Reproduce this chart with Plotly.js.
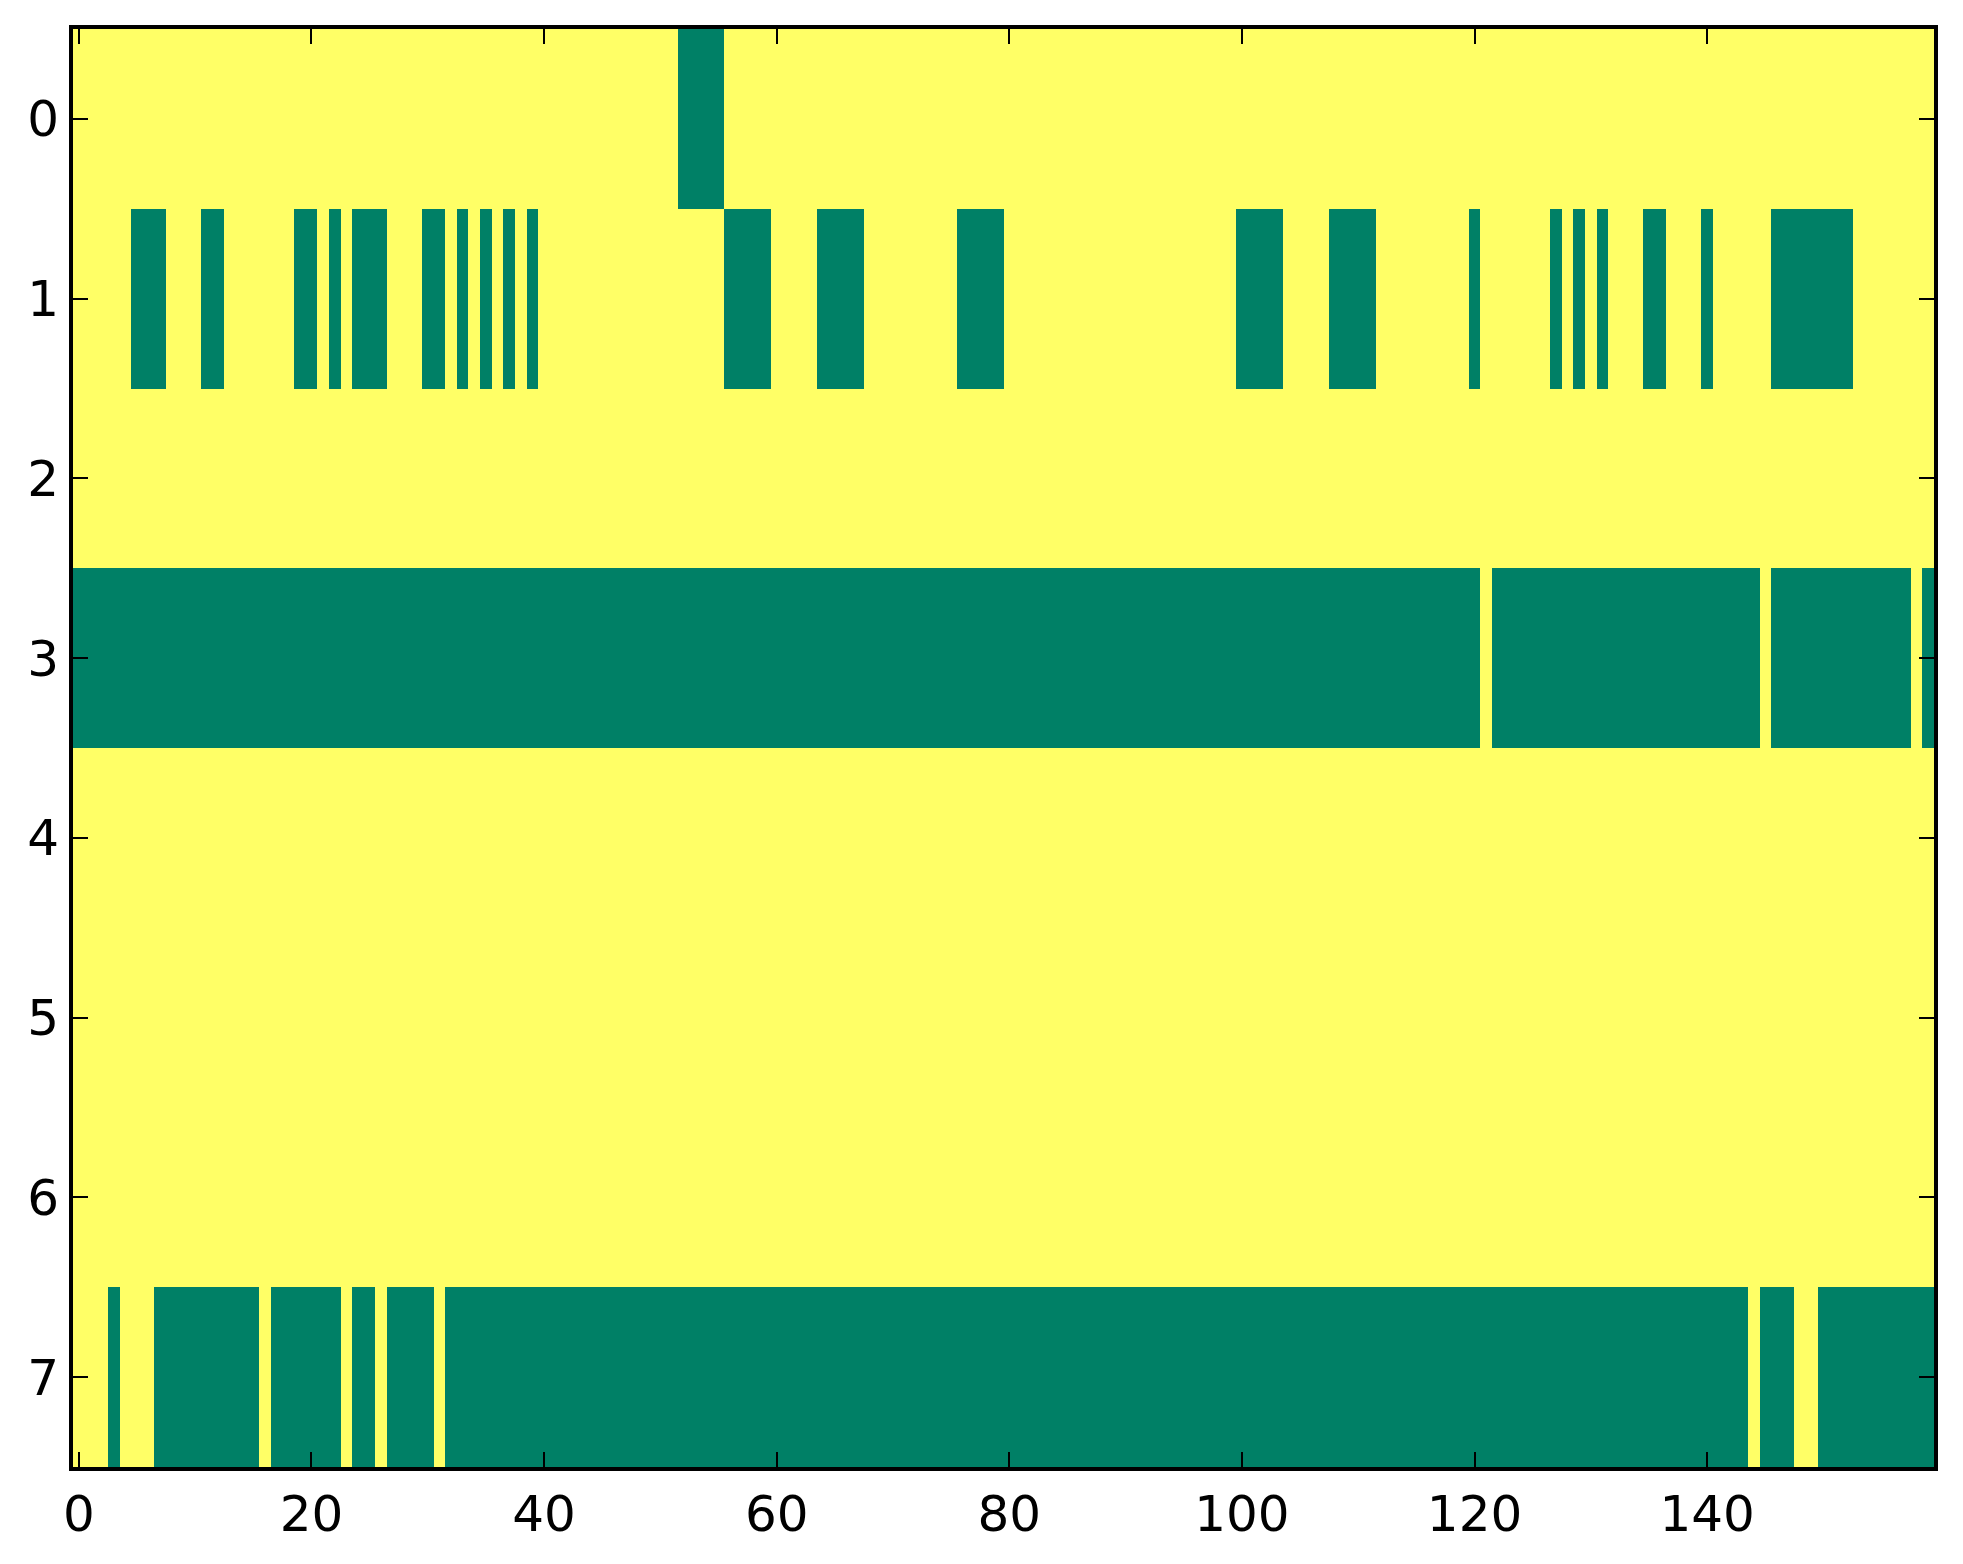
<!DOCTYPE html>
<html>
<head>
<meta charset="utf-8">
<script src="https://cdn.plot.ly/plotly-3.0.1.min.js"></script>
<style>
  html, body { margin: 0; padding: 0; background: #ffffff; }
  #chart { width: 1963px; height: 1564px; }
</style>
</head>
<body>
<div id="chart"></div>
<script>
// ---- data: 8 rows x 160 columns, binary values (0 = green, 1 = yellow) ----
const nCols = 160;
const rowIndex = [0, 1, 2, 3, 4, 5, 6, 7];
const xTickVals = [0, 20, 40, 60, 80, 100, 120, 140];
const yTickVals = [0, 1, 2, 3, 4, 5, 6, 7];

// inclusive column ranges whose value is 0 (drawn green)
const zeroRunsRow0 = [[52, 55]];
const zeroRunsRow1 = [[5, 7], [11, 12], [19, 20], [22, 22], [24, 26], [30, 31], [33, 33], [35, 35],
                      [37, 37], [39, 39], [56, 59], [64, 67], [76, 79], [100, 103], [108, 111],
                      [120, 120], [127, 127], [129, 129], [131, 131], [135, 136], [140, 140], [146, 152]];
const zeroRunsRow2 = [];
const zeroRunsRow3 = [[0, 120], [122, 144], [146, 157], [159, 159]];
const zeroRunsRow4 = [];
const zeroRunsRow5 = [];
const zeroRunsRow6 = [];
const zeroRunsRow7 = [[3, 3], [7, 15], [17, 22], [24, 25], [27, 30], [32, 143], [145, 147], [150, 159]];

const allRuns = [zeroRunsRow0, zeroRunsRow1, zeroRunsRow2, zeroRunsRow3,
                 zeroRunsRow4, zeroRunsRow5, zeroRunsRow6, zeroRunsRow7];

const xCols = [];
for (let c = 0; c < nCols; c++) xCols.push(c);

const z = allRuns.map(runs => {
  const row = new Array(nCols).fill(1);
  runs.forEach(([a, b]) => { for (let c = a; c <= b; c++) row[c] = 0; });
  return row;
});

const trace = {
  type: 'heatmap',
  x: xCols,
  y: rowIndex,
  z: z,
  zmin: 0,
  zmax: 1,
  colorscale: [[0, '#008066'], [1, '#ffff66']],
  showscale: false,
  hoverinfo: 'skip',
  xgap: 0,
  ygap: 0
};

const axisFont = { family: 'DejaVu Sans, sans-serif', size: 50, color: '#000000' };

const layout = {
  width: 1963,
  height: 1564,
  margin: { l: 73, r: 29, t: 29, b: 97, pad: 0 },
  paper_bgcolor: '#ffffff',
  plot_bgcolor: '#ffffff',
  showlegend: false,
  xaxis: {
    range: [-0.5, 159.5],
    tickmode: 'array',
    tickvals: xTickVals,
    ticktext: xTickVals.map(String),
    ticks: 'inside',
    ticklen: 15,
    tickwidth: 2,
    tickcolor: '#000000',
    showline: true,
    linecolor: '#000000',
    linewidth: 4,
    mirror: 'ticks',
    showgrid: false,
    zeroline: false,
    tickfont: axisFont,
    ticklabelstandoff: 0
  },
  yaxis: {
    range: [7.5, -0.5],
    tickmode: 'array',
    tickvals: yTickVals,
    ticktext: yTickVals.map(String),
    ticks: 'inside',
    ticklen: 15,
    tickwidth: 2,
    tickcolor: '#000000',
    showline: true,
    linecolor: '#000000',
    linewidth: 4,
    mirror: 'ticks',
    showgrid: false,
    zeroline: false,
    tickfont: axisFont,
    ticklabelstandoff: 0
  }
};

Plotly.newPlot('chart', [trace], layout, { staticPlot: true, displayModeBar: false });
</script>
</body>
</html>
